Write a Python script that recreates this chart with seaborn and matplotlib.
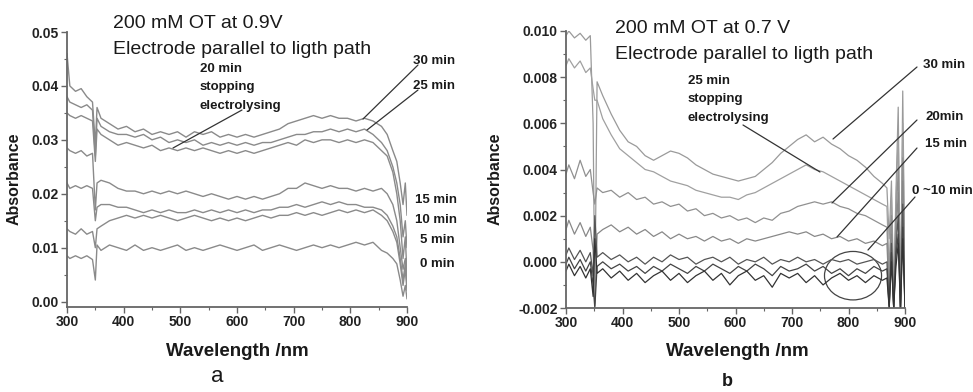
import numpy as np
import pandas as pd
import matplotlib
matplotlib.use("Agg")
import matplotlib.pyplot as plt
import seaborn as sns
from matplotlib.lines import Line2D
from matplotlib.patches import Ellipse
from matplotlib.ticker import MultipleLocator

# ---------------- Panel a data (200 mM OT at 0.9 V) ----------------
wl_a = [300, 305, 315, 325, 335, 345, 350, 353, 360, 375, 390, 405, 420, 435, 450,
        465, 480, 495, 510, 525, 540, 555, 570, 585, 600, 615, 630, 645, 660, 675,
        690, 705, 720, 735, 750, 765, 780, 795, 810, 825, 840, 855, 865, 875, 882,
        888, 893, 897, 900]
a_30 = [0.046, 0.040, 0.039, 0.0395, 0.038, 0.037, 0.029, 0.036, 0.034, 0.033, 0.032, 0.0325, 0.0315, 0.032, 0.031,
        0.0315, 0.031, 0.0315, 0.0305, 0.0315, 0.031, 0.0315, 0.0305, 0.031, 0.0305, 0.031, 0.0305, 0.031, 0.0315, 0.032,
        0.033, 0.0335, 0.034, 0.0345, 0.034, 0.0345, 0.034, 0.034, 0.0335, 0.034, 0.0335, 0.0325, 0.031, 0.028, 0.026,
        0.022, 0.018, 0.022, 0.016]
a_25 = [0.038, 0.037, 0.0365, 0.036, 0.0365, 0.0355, 0.027, 0.034, 0.0325, 0.0315, 0.031, 0.031, 0.0305, 0.031, 0.030,
        0.0305, 0.0295, 0.030, 0.0295, 0.030, 0.029, 0.0295, 0.029, 0.0295, 0.029, 0.0295, 0.029, 0.0295, 0.0295, 0.030,
        0.0305, 0.031, 0.031, 0.0315, 0.0315, 0.032, 0.0315, 0.032, 0.0315, 0.032, 0.031, 0.0295, 0.028, 0.025, 0.022,
        0.018, 0.012, 0.015, 0.010]
a_20 = [0.035, 0.0345, 0.034, 0.0345, 0.034, 0.0335, 0.026, 0.032, 0.031, 0.030, 0.029, 0.0295, 0.029, 0.0285, 0.029,
        0.028, 0.0285, 0.028, 0.0285, 0.028, 0.0285, 0.028, 0.0275, 0.028, 0.0275, 0.028, 0.0275, 0.028, 0.0285, 0.029,
        0.0295, 0.029, 0.030, 0.0295, 0.030, 0.030, 0.0295, 0.030, 0.0295, 0.030, 0.0295, 0.028, 0.027, 0.024, 0.020,
        0.015, 0.008, 0.012, 0.005]
a_15 = [0.0285, 0.028, 0.0275, 0.028, 0.027, 0.0275, 0.017, 0.022, 0.0225, 0.022, 0.021, 0.0205, 0.0205, 0.020, 0.0205,
        0.020, 0.0205, 0.020, 0.0205, 0.020, 0.0195, 0.020, 0.0195, 0.019, 0.0195, 0.019, 0.0195, 0.019, 0.0195, 0.020,
        0.021, 0.021, 0.022, 0.0215, 0.021, 0.0215, 0.021, 0.021, 0.0205, 0.021, 0.0205, 0.021, 0.020, 0.018, 0.015,
        0.010, 0.006, 0.008, 0.004]
a_10 = [0.022, 0.021, 0.0215, 0.021, 0.0215, 0.021, 0.015, 0.0175, 0.018, 0.018, 0.0175, 0.0175, 0.017, 0.0165, 0.017,
        0.0165, 0.017, 0.0165, 0.0165, 0.017, 0.0165, 0.017, 0.0165, 0.017, 0.0165, 0.017, 0.0165, 0.017, 0.017, 0.0175,
        0.0175, 0.018, 0.0175, 0.018, 0.0185, 0.018, 0.0185, 0.018, 0.018, 0.0175, 0.0175, 0.017, 0.016, 0.014, 0.012,
        0.008, 0.004, 0.007, 0.003]
a_5 = [0.0135, 0.013, 0.0125, 0.0135, 0.0125, 0.013, 0.010, 0.0135, 0.014, 0.015, 0.0155, 0.016, 0.0155, 0.016, 0.0155,
       0.016, 0.0155, 0.015, 0.0155, 0.016, 0.0155, 0.015, 0.0155, 0.015, 0.0155, 0.015, 0.0155, 0.016, 0.0155, 0.016,
       0.016, 0.0165, 0.016, 0.0165, 0.016, 0.0165, 0.017, 0.0165, 0.017, 0.0165, 0.017, 0.016, 0.015, 0.013, 0.011,
       0.007, 0.003, 0.006, 0.002]
a_0 = [0.0085, 0.008, 0.0085, 0.008, 0.0085, 0.0078, 0.004, 0.0105, 0.0095, 0.0105, 0.010, 0.0095, 0.0105, 0.0095, 0.010,
       0.0095, 0.010, 0.0105, 0.0095, 0.010, 0.0095, 0.010, 0.0105, 0.010, 0.0095, 0.010, 0.0105, 0.0095, 0.010, 0.0105,
       0.010, 0.0095, 0.010, 0.0105, 0.010, 0.0105, 0.010, 0.0105, 0.011, 0.0105, 0.011, 0.0095, 0.009, 0.008, 0.007,
       0.004, 0.001, 0.003, 0.0005]
times_a = ["30 min", "25 min", "20 min", "15 min", "10 min", "5 min", "0 min"]
series_a = [a_30, a_25, a_20, a_15, a_10, a_5, a_0]

# ---------------- Panel b data (200 mM OT at 0.7 V) ----------------
wl_b = [300, 305, 315, 325, 335, 343, 348, 351, 355, 365, 380, 395, 410, 425, 440,
        455, 470, 485, 500, 515, 530, 545, 560, 575, 590, 605, 620, 635, 650, 665,
        680, 695, 710, 725, 740, 755, 770, 785, 800, 815, 830, 845, 860, 868, 872,
        876, 880, 884, 888, 892, 896, 900]
b_30 = [0.0098, 0.0100, 0.0097, 0.0099, 0.0096, 0.0098, 0.0060, -0.0018, 0.0078, 0.0072, 0.0064, 0.0057, 0.0052, 0.0050, 0.0046,
        0.0044, 0.0046, 0.0048, 0.0047, 0.0045, 0.0042, 0.0040, 0.0038, 0.0037, 0.0036, 0.0035, 0.0036, 0.0037, 0.0040, 0.0043,
        0.0047, 0.0050, 0.0053, 0.0055, 0.0052, 0.0054, 0.0051, 0.0049, 0.0046, 0.0044, 0.0041, 0.0037, 0.0034, 0.0032, 0.0010,
        0.0035, -0.0015, 0.0030, 0.0067, -0.0020, 0.0074, -0.0010]
b_25 = [0.0085, 0.0088, 0.0084, 0.0087, 0.0082, 0.0084, 0.0075, 0.0070, 0.0070, 0.0062, 0.0055, 0.0049, 0.0046, 0.0043, 0.0040,
        0.0039, 0.0037, 0.0035, 0.0034, 0.0033, 0.0031, 0.0030, 0.0029, 0.0028, 0.0028, 0.0027, 0.0029, 0.0030, 0.0032, 0.0034,
        0.0036, 0.0038, 0.0040, 0.0042, 0.0040, 0.0039, 0.0037, 0.0035, 0.0033, 0.0031, 0.0029, 0.0027, 0.0025, 0.0024, -0.0005,
        0.0028, -0.0018, 0.0025, 0.0055, -0.0020, 0.0060, -0.0015]
b_20 = [0.0038, 0.0042, 0.0036, 0.0044, 0.0037, 0.0040, 0.0030, 0.0025, 0.0032, 0.0030, 0.0031, 0.0028, 0.0030, 0.0027, 0.0028,
        0.0025, 0.0026, 0.0024, 0.0025, 0.0022, 0.0023, 0.0020, 0.0021, 0.0019, 0.0020, 0.0018, 0.0019, 0.0017, 0.0019, 0.0018,
        0.0021, 0.0022, 0.0024, 0.0025, 0.0026, 0.0025, 0.0026, 0.0024, 0.0023, 0.0021, 0.0020, 0.0018, 0.0016, 0.0015, -0.0010,
        0.0020, -0.0020, 0.0018, 0.0040, -0.0020, 0.0045, -0.0018]
b_15 = [0.0014, 0.0018, 0.0012, 0.0017, 0.0011, 0.0015, 0.0005, -0.0019, 0.0012, 0.0014, 0.0016, 0.0013, 0.0015, 0.0012, 0.0014,
        0.0011, 0.0013, 0.0010, 0.0012, 0.0010, 0.0011, 0.0009, 0.0011, 0.0009, 0.0010, 0.0008, 0.0010, 0.0009, 0.0010, 0.0011,
        0.0012, 0.0013, 0.0012, 0.0013, 0.0011, 0.0012, 0.0010, 0.0011, 0.0009, 0.0010, 0.0008, 0.0009, 0.0007, 0.0008, -0.0015,
        0.0012, -0.0020, 0.0010, 0.0030, -0.0020, 0.0035, -0.0020]
b_10 = [0.0003, 0.0006, 0.0001, 0.0005, 0.0000, 0.0004, -0.0006, 0.0020, 0.0002, 0.0004, 0.0001, 0.0003, 0.0000, 0.0002, -0.0001,
        0.0002, 0.0000, 0.0003, 0.0001, 0.0002, -0.0001, 0.0001, 0.0002, 0.0000, 0.0002, -0.0001, 0.0001, 0.0000, 0.0002, -0.0001,
        0.0001, 0.0000, 0.0002, 0.0000, 0.0001, -0.0001, 0.0001, 0.0000, 0.0001, -0.0001, 0.0000, 0.0001, -0.0001, 0.0000, -0.0019,
        0.0008, -0.0020, 0.0006, 0.0020, -0.0020, 0.0025, -0.0020]
b_5 = [-0.0001, 0.0002, -0.0003, 0.0001, -0.0004, 0.0000, -0.0010, -0.0020, -0.0002, 0.0000, -0.0003, -0.0001, -0.0004, -0.0002, -0.0005,
       -0.0002, -0.0004, -0.0001, -0.0003, -0.0005, -0.0002, -0.0004, -0.0001, -0.0003, -0.0005, -0.0002, -0.0004, -0.0001, -0.0003, -0.0006,
       -0.0002, -0.0004, -0.0003, -0.0001, -0.0004, -0.0002, -0.0005, -0.0003, -0.0006, -0.0003, -0.0005, -0.0002, -0.0004, -0.0003, -0.0020,
       0.0004, -0.0020, 0.0003, 0.0012, -0.0020, 0.0015, -0.0020]
b_0 = [-0.0004, -0.0001, -0.0006, -0.0002, -0.0007, -0.0003, -0.0015, 0.0010, -0.0005, -0.0003, -0.0007, -0.0004, -0.0008, -0.0005, -0.0009,
       -0.0006, -0.0004, -0.0008, -0.0005, -0.0009, -0.0006, -0.0004, -0.0008, -0.0005, -0.0010, -0.0006, -0.0004, -0.0008, -0.0006, -0.0011,
       -0.0005, -0.0007, -0.0005, -0.0009, -0.0006, -0.0010, -0.0007, -0.0005, -0.0008, -0.0006, -0.0009, -0.0006, -0.0008, -0.0007, -0.0020,
       0.0000, -0.0020, -0.0002, 0.0008, -0.0020, 0.0010, -0.0020]
times_b = ["30 min", "25 min", "20min", "15 min", "10 min", "5 min", "0 min"]
series_b = [b_30, b_25, b_20, b_15, b_10, b_5, b_0]
colors_b = ["#9a9a9a", "#a0a0a0", "#909090", "#888888", "#555555", "#444444", "#333333"]

# ---------------- build long-form tables ----------------
df_a = pd.concat([pd.DataFrame({"wavelength": wl_a, "absorbance": v, "time": t})
                  for t, v in zip(times_a, series_a)], ignore_index=True)
df_b = pd.concat([pd.DataFrame({"wavelength": wl_b, "absorbance": v, "time": t})
                  for t, v in zip(times_b, series_b)], ignore_index=True)

sns.set_theme(style="ticks")
plt.rcParams["font.family"] = ["Liberation Sans", "DejaVu Sans"]

W, H = 973, 392
fig = plt.figure(figsize=(W / 100, H / 100), dpi=100)


def fx(px):
    return px / W


def fy(py):
    return 1 - py / H


axa = fig.add_axes([fx(67), fy(307), (407 - 67) / W, (307 - 32) / H])
axb = fig.add_axes([fx(566), fy(308), (905 - 566) / W, (308 - 31) / H])

sns.lineplot(data=df_a, x="wavelength", y="absorbance", hue="time",
             palette={t: "#8a8a8a" for t in times_a}, estimator=None, sort=False,
             legend=False, ax=axa, linewidth=1.0)
sns.lineplot(data=df_b, x="wavelength", y="absorbance", hue="time",
             palette=dict(zip(times_b, colors_b)), estimator=None, sort=False,
             legend=False, ax=axb, linewidth=0.9)

axa.set_xlim(300, 900)
axa.set_ylim(-0.001, 0.05)
axa.yaxis.set_major_locator(MultipleLocator(0.01))
axa.yaxis.set_minor_locator(MultipleLocator(0.005))
axa.yaxis.set_major_formatter(matplotlib.ticker.FormatStrFormatter("%.2f"))
axb.set_xlim(300, 900)
axb.set_ylim(-0.002, 0.010)
axb.yaxis.set_major_locator(MultipleLocator(0.002))
axb.yaxis.set_minor_locator(MultipleLocator(0.001))
axb.yaxis.set_major_formatter(matplotlib.ticker.FormatStrFormatter("%.3f"))

for ax in (axa, axb):
    ax.xaxis.set_major_locator(MultipleLocator(100))
    ax.xaxis.set_minor_locator(MultipleLocator(50))
    sns.despine(ax=ax)
    for s in ("left", "bottom"):
        ax.spines[s].set_color("#666666")
        ax.spines[s].set_linewidth(1.3)
    ax.tick_params(which="major", direction="out", length=4, width=1, color="#666666",
                   labelsize=10, pad=2)
    ax.tick_params(which="minor", direction="out", length=2.5, width=0.8, color="#666666")
    for lab in ax.get_xticklabels() + ax.get_yticklabels():
        lab.set_fontweight("bold")
        lab.set_color("#222222")
    ax.set_xlabel("")
    ax.set_ylabel("")
    ax.patch.set_alpha(0)

# ellipse highlighting 0~10 min in panel b
axb.add_patch(Ellipse((808, -0.0006), 101, 0.0021, fill=False, edgecolor="#444444", lw=0.9))

txt = dict(color="#1a1a1a")
# titles
fig.text(fx(113), fy(28), "200 mM OT at 0.9V", fontsize=14, va="baseline", **txt)
fig.text(fx(113), fy(54), "Electrode parallel to ligth path", fontsize=14, va="baseline", **txt)
fig.text(fx(615), fy(33), "200 mM OT at 0.7 V", fontsize=14, va="baseline", **txt)
fig.text(fx(615), fy(59), "Electrode parallel to ligth path", fontsize=14, va="baseline", **txt)

ann = dict(fontsize=9.5, fontweight="bold", va="baseline", **txt)
# panel a annotations
fig.text(fx(200), fy(72), "20 min", **ann)
fig.text(fx(200), fy(90), "stopping", **ann)
fig.text(fx(200), fy(109), "electrolysing", **ann)
fig.text(fx(413), fy(64), "30 min", **ann)
fig.text(fx(413), fy(89), "25 min", **ann)
fig.text(fx(415), fy(203), "15 min", **ann)
fig.text(fx(415), fy(223), "10 min", **ann)
fig.text(fx(420), fy(243), "5 min", **ann)
fig.text(fx(420), fy(267), "0 min", **ann)
# panel b annotations
fig.text(fx(688), fy(84), "25 min", **ann)
fig.text(fx(688), fy(102), "stopping", **ann)
fig.text(fx(688), fy(121), "electrolysing", **ann)
fig.text(fx(923), fy(68), "30 min", **ann)
fig.text(fx(925), fy(120), "20min", **ann)
fig.text(fx(925), fy(147), "15 min", **ann)
fig.text(fx(912), fy(194), "0 ~10 min", **ann)

# leader lines
leaders = [((242, 110), (173, 148)), ((418, 65), (363, 119)), ((418, 90), (367, 130)),
           ((743, 125), (820, 172)), ((917, 67), (833, 139)), ((917, 120), (832, 203)),
           ((917, 148), (837, 237)), ((915, 197), (868, 250))]
for (x0, y0), (x1, y1) in leaders:
    fig.add_artist(Line2D([fx(x0), fx(x1)], [fy(y0), fy(y1)], color="#333333", lw=0.9))

# axis labels
lab = dict(fontsize=11.5, fontweight="bold", rotation=90, ha="center", va="center", **txt)
fig.text(fx(14), fy(179), "Absorbance", **lab)
fig.text(fx(495), fy(179), "Absorbance", **lab)
fig.text(fx(237), fy(356), "Wavelength /nm", fontsize=13.5, fontweight="bold",
         ha="center", va="baseline", **txt)
fig.text(fx(737), fy(356), "Wavelength /nm", fontsize=13.5, fontweight="bold",
         ha="center", va="baseline", **txt)
fig.text(fx(217), fy(382), "a", fontsize=16, ha="center", va="baseline", **txt)
fig.text(fx(727), fy(386), "b", fontsize=13, fontweight="bold", ha="center", va="baseline", **txt)

fig.savefig("out.png", dpi=100, facecolor="white")
